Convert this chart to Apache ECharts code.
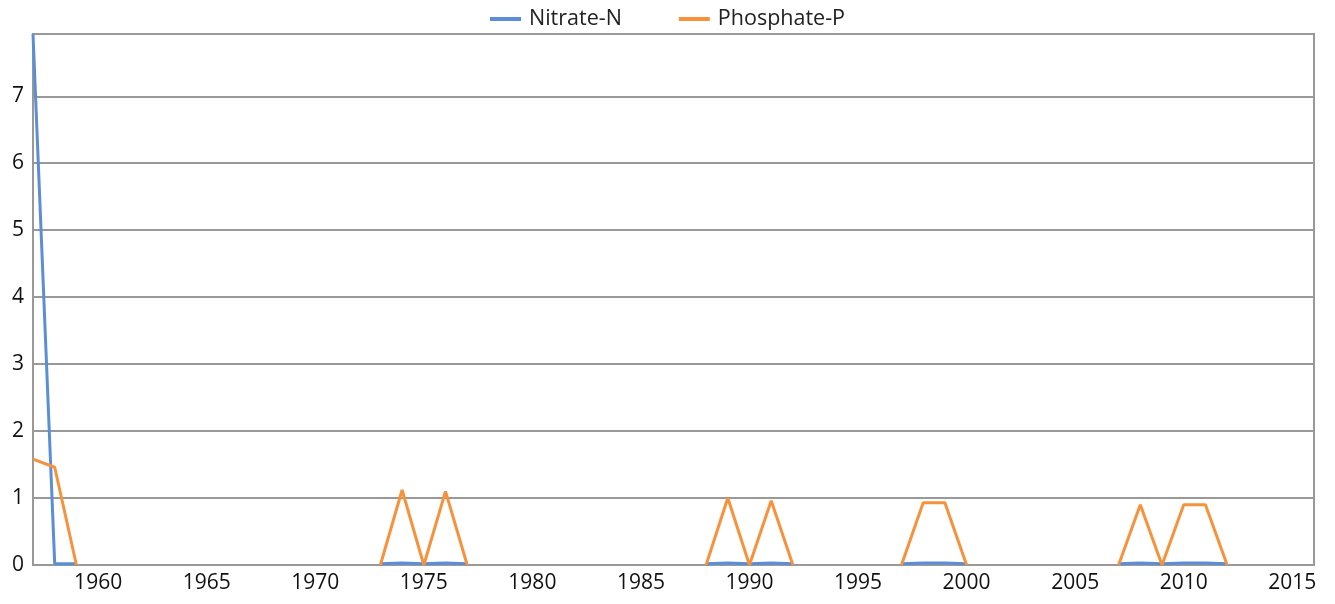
<!DOCTYPE html>
<html><head><meta charset="utf-8">
<script src="https://cdn.jsdelivr.net/npm/echarts@6/dist/echarts.min.js"></script>
<style>html,body{margin:0;padding:0;background:#fff}#c{width:1335px;height:604px}</style>
</head><body><div id="c"></div>
<script>
const years = [1957,1958,1959,1960,1972,1973,1974,1975,1976,1977,1978,1987,1988,1989,1990,1991,1992,1993,1996,1997,1998,1999,2000,2001,2006,2007,2008,2009,2010,2011,2012];
const nitrate = [7.93,0.02,0.02,null,null,0.02,0.03,0.02,0.03,0.02,null,null,0.02,0.03,0.02,0.03,0.02,null,null,0.02,0.03,0.03,0.02,null,null,0.02,0.03,0.02,0.03,0.03,0.02];
const phosphate = [1.58,1.46,0,null,null,0,1.12,0,1.1,0,null,null,0,1.0,0,0.96,0,null,null,0,0.93,0.93,0,null,null,0,0.9,0,0.9,0.9,0];
const xLabels = [1960,1965,1970,1975,1980,1985,1990,1995,2000,2005,2010,2015];
const yTicks = [0,1,2,3,4,5,6,7];

const font = '"Open Sans", "Noto Sans", sans-serif';
const chart = echarts.init(document.getElementById('c'), null, {renderer:'canvas'});
chart.setOption({
  animation:false,
  legend:{top:3,left:'center',icon:'rect',itemWidth:31,itemHeight:4,itemGap:57,
    textStyle:{fontFamily:font,fontSize:21.5,color:'#222',padding:[0,0,0,3]},
    data:['Nitrate-N','Phosphate-P']},
  grid:{left:33,right:21,top:34,bottom:39,show:true,borderColor:'#999',borderWidth:2,containLabel:false},
  xAxis:{type:'value',min:1957,max:2016,
    axisLine:{show:true,onZero:false,lineStyle:{color:'#999',width:2}},
    axisTick:{show:false},splitLine:{show:false},
    axisLabel:{customValues:xLabels,fontFamily:font,fontSize:21,color:'#111',margin:8,formatter:v=>String(v)}},
  yAxis:{type:'value',min:0,max:7.93,interval:1,
    axisLine:{show:true,lineStyle:{color:'#999',width:2}},
    axisTick:{show:false},
    splitLine:{show:true,lineStyle:{color:'#999',width:2}},
    axisLabel:{customValues:yTicks,fontFamily:font,fontSize:21,color:'#111',margin:9}},
  series:[
    {name:'Nitrate-N',type:'line',data:years.map((y,i)=>[y,nitrate[i]]),showSymbol:false,
      lineStyle:{color:'#5B8ED6',width:3},itemStyle:{color:'#5B8ED6'},connectNulls:false},
    {name:'Phosphate-P',type:'line',data:years.map((y,i)=>[y,phosphate[i]]),showSymbol:false,
      lineStyle:{color:'#F7923C',width:3},itemStyle:{color:'#F7923C'},connectNulls:false}
  ]
});
</script></body></html>
